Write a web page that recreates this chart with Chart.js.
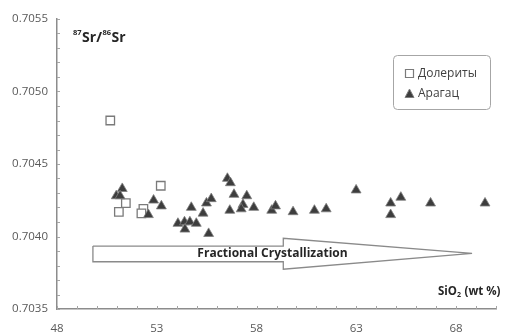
<!DOCTYPE html>
<html><head><meta charset="utf-8">
<script src="https://cdn.jsdelivr.net/npm/chart.js@4/dist/chart.umd.min.js"></script>
<style>html,body{margin:0;padding:0;background:#fff;overflow:hidden;width:506px;height:335px}#wrap{width:509px;height:335px}</style>
</head><body><div id="wrap"><canvas id="c" width="509" height="335"></canvas></div>
<script>
const seriesNames = ['Долериты', 'Арагац'];
const doleriteX = [50.67, 53.2, 51.45, 51.1, 52.33, 52.23];
const doleriteY = [0.70480, 0.70435, 0.70423, 0.70417, 0.70419, 0.70416];
const aragatsX = [51.27, 50.97, 51.16, 52.84, 53.23, 52.58, 54.73, 54.06, 54.39, 54.66, 54.98, 54.41, 55.32, 55.49, 55.73, 55.60, 56.54, 56.69, 56.87, 56.66, 57.51, 57.32, 57.23, 57.86, 58.76, 58.95, 59.83, 60.90, 61.49, 62.99, 64.72, 65.23, 64.72, 66.72, 69.45];
const aragatsY = [0.70433, 0.70428, 0.70428, 0.70425, 0.70421, 0.70415, 0.70420, 0.70409, 0.70410, 0.70410, 0.70409, 0.70405, 0.70416, 0.70423, 0.70426, 0.70402, 0.70440, 0.70437, 0.70429, 0.70418, 0.70428, 0.70422, 0.70419, 0.70420, 0.70418, 0.70421, 0.70417, 0.70418, 0.70419, 0.70432, 0.70423, 0.70427, 0.70415, 0.70423, 0.70423];
const arrowX = [49.8, 59.34, 59.34, 68.8, 59.34, 59.34, 49.8, 49.8];
const arrowY = [0.703934, 0.703934, 0.703988, 0.703884, 0.703774, 0.703826, 0.703826, 0.703934];
const arrowLabel = 'Fractional Crystallization';
const arrowLabelPos = [58.8, 0.70388];
const xTickLabels = ['48', '53', '58', '63', '68'];
const yTickLabels = ['0.7035', '0.7040', '0.7045', '0.7050', '0.7055'];

const pts = (xs, ys) => xs.map((x, i) => ({x: x, y: ys[i]}));
const FONT = "'Open Sans', 'DejaVu Sans', sans-serif";

const tickMarks = {
  id: 'tickMarks',
  afterDraw(chart) {
    const ctx = chart.ctx, a = chart.chartArea;
    ctx.save();
    ctx.strokeStyle = '#a6a6a6';
    ctx.lineWidth = 1;
    const xs = chart.scales.x, ys = chart.scales.y;
    xs.ticks.forEach(t => {
      const px = Math.round(xs.getPixelForValue(t.value)) + 0.5;
      ctx.beginPath(); ctx.moveTo(px, a.bottom); ctx.lineTo(px, a.bottom - 3); ctx.stroke();
    });
    ys.ticks.forEach(t => {
      const py = Math.round(ys.getPixelForValue(t.value)) + 0.5;
      ctx.beginPath(); ctx.moveTo(a.left, py); ctx.lineTo(a.left + 3, py); ctx.stroke();
    });
    ctx.restore();
  }
};

const annotations = {
  id: 'annotations',
  afterDatasetsDraw(chart) {
    const ctx = chart.ctx, a = chart.chartArea;
    const xs = chart.scales.x, ys = chart.scales.y;
    ctx.save();
    // arrow label
    ctx.fillStyle = '#262626';
    ctx.font = "bold 12px " + FONT;
    ctx.textAlign = 'center'; ctx.textBaseline = 'middle';
    ctx.fillText(arrowLabel, xs.getPixelForValue(arrowLabelPos[0]), ys.getPixelForValue(arrowLabelPos[1]));
    // y title 87Sr/86Sr
    ctx.textAlign = 'left'; ctx.textBaseline = 'alphabetic';
    let x = a.left + 16, base = a.top + 23;
    ctx.fillStyle = '#262626';
    ctx.font = "bold 7.5px " + FONT; ctx.fillText('87', x, base - 7); x += ctx.measureText('87').width + 0.5;
    ctx.font = "bold 14px " + FONT; ctx.fillText('Sr/', x, base); x += ctx.measureText('Sr/').width + 0.5;
    ctx.font = "bold 7.5px " + FONT; ctx.fillText('86', x, base - 7); x += ctx.measureText('86').width + 0.5;
    ctx.font = "bold 14px " + FONT; ctx.fillText('Sr', x, base);
    // x title SiO2 (wt %)
    x = 438; base = 295;
    ctx.font = "bold 11.5px " + FONT; ctx.fillText('SiO', x, base); x += ctx.measureText('SiO').width;
    ctx.font = "bold 7px " + FONT; ctx.fillText('2', x, base + 2); x += ctx.measureText('2').width + 0.5;
    ctx.font = "bold 11.5px " + FONT; ctx.fillText(' (wt %)', x, base);
    // legend box
    const L = 393.5, T = 55.5, W = 97, H = 54, r = 4;
    ctx.beginPath();
    ctx.moveTo(L + r, T); ctx.lineTo(L + W - r, T); ctx.arcTo(L + W, T, L + W, T + r, r);
    ctx.lineTo(L + W, T + H - r); ctx.arcTo(L + W, T + H, L + W - r, T + H, r);
    ctx.lineTo(L + r, T + H); ctx.arcTo(L, T + H, L, T + H - r, r);
    ctx.lineTo(L, T + r); ctx.arcTo(L, T, L + r, T, r); ctx.closePath();
    ctx.fillStyle = '#fff'; ctx.fill();
    ctx.strokeStyle = '#a6a6a6'; ctx.lineWidth = 1; ctx.stroke();
    const ds = chart.data.datasets;
    const rows = [73.5, 94];
    [0, 1].forEach(i => {
      const d = ds[i], cy = rows[i], cx = 409.5;
      ctx.beginPath();
      if (d.pointStyle === 'rect') {
        ctx.rect(cx - 4, cy - 4, 8, 8);
        ctx.fillStyle = d.pointBackgroundColor; ctx.fill();
        ctx.strokeStyle = d.pointBorderColor; ctx.lineWidth = 1.2; ctx.stroke();
      } else {
        ctx.moveTo(cx, cy - 5); ctx.lineTo(cx + 4.5, cy + 3.5); ctx.lineTo(cx - 4.5, cy + 3.5); ctx.closePath();
        ctx.fillStyle = d.pointBackgroundColor; ctx.fill();
        ctx.strokeStyle = d.pointBorderColor; ctx.lineWidth = 1; ctx.stroke();
      }
      ctx.fillStyle = '#404040';
      ctx.font = "12px " + FONT; ctx.textBaseline = 'middle'; ctx.textAlign = 'left';
      ctx.fillText(d.label, 418, cy);
    });
    ctx.restore();
  }
};

new Chart(document.getElementById('c'), {
  type: 'scatter',
  data: {
    datasets: [
      {label: seriesNames[0], data: pts(doleriteX, doleriteY), pointStyle: 'rect', pointRadius: 6, pointHoverRadius: 6,
       pointBackgroundColor: '#ffffff', pointBorderColor: '#7a7a7a', pointBorderWidth: 1.3, order: 2},
      {label: seriesNames[1], data: pts(aragatsX, aragatsY), pointStyle: 'triangle', pointRadius: 5.7, pointHoverRadius: 5.7,
       pointBackgroundColor: '#3d3d3d', pointBorderColor: '#7f7f7f', pointBorderWidth: 0.8, order: 1},
      {label: 'arrow', data: pts(arrowX, arrowY), showLine: true, pointRadius: 0, borderColor: '#8a8a8a', borderWidth: 1.3,
       backgroundColor: 'transparent', fill: false, tension: 0, order: 3}
    ]
  },
  options: {
    responsive: false, animation: false, devicePixelRatio: 1,
    layout: {padding: {left: 0, top: 19, right: 0, bottom: 0}},
    plugins: {legend: {display: false}, tooltip: {enabled: false}},
    scales: {
      x: {
        type: 'linear', min: 48, max: 70,
        afterFit: s => { s.height = 26; },
        grid: {display: false, drawTicks: false},
        border: {display: true, color: '#8c8c8c', width: 1.5},
        ticks: {stepSize: 1, autoSkip: false, maxTicksLimit: 40, maxRotation: 0, padding: 13, color: '#595959',
          font: {family: FONT, size: 11.5},
          callback: v => { const s = String(Math.round(v)); return xTickLabels.includes(s) && Math.abs(v - Math.round(v)) < 1e-6 ? s : ''; }}
      },
      y: {
        type: 'linear', min: 0.7035, max: 0.7055,
        afterFit: s => { s.width = 57; },
        grid: {display: false, drawTicks: false},
        border: {display: true, color: '#8c8c8c', width: 1.5},
        ticks: {stepSize: 0.0001, autoSkip: false, maxTicksLimit: 40, padding: 9, color: '#595959',
          font: {family: FONT, size: 11.5},
          callback: v => { const s = v.toFixed(4); return yTickLabels.includes(s) && Math.abs(v * 10000 - Math.round(v * 10000)) < 1e-4 ? s : ''; }}
      }
    }
  },
  plugins: [tickMarks, annotations]
});
</script></body></html>
